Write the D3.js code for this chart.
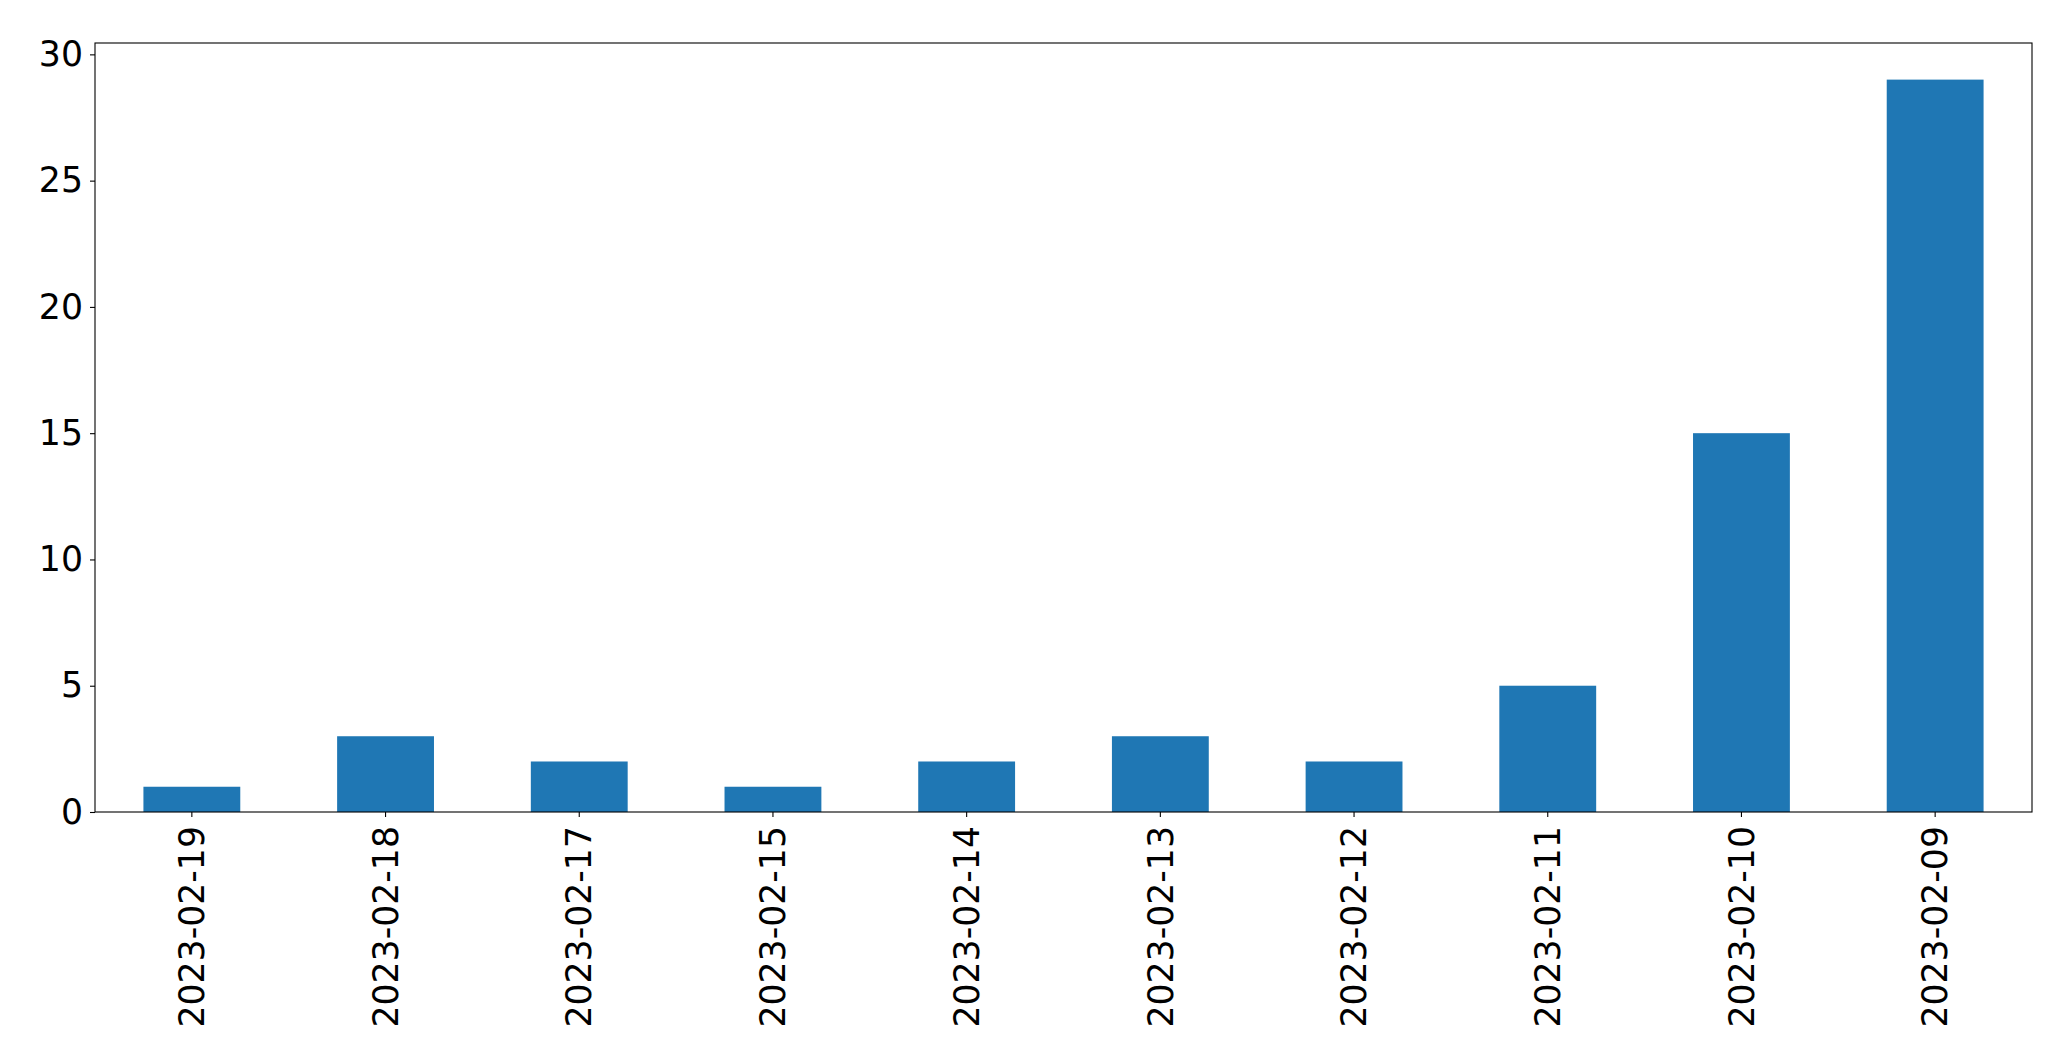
<!DOCTYPE html>
<html>
<head>
<meta charset="utf-8">
<script src="https://cdn.jsdelivr.net/npm/d3@7"></script>
<style>
    body { margin: 0; background: #fff; }
    svg { display: block; }
    .axis text { font-family: "DejaVu Sans", sans-serif; font-size: 34.7px; fill: #000; }
    .axis path, .axis line { stroke: #000; stroke-width: 1.1px; }
</style>
</head>
<body>
<div id="container"></div>
<script>
"use strict"

const dates = ["2023-02-19", "2023-02-18", "2023-02-17", "2023-02-15", "2023-02-14",
               "2023-02-13", "2023-02-12", "2023-02-11", "2023-02-10", "2023-02-09"];
const counts = [1, 3, 2, 1, 2, 3, 2, 5, 15, 29];
const yTicks = [0, 5, 10, 15, 20, 25, 30];

const W = 2071, H = 1064;
const margin = { left: 95, right: 39, top: 43, bottom: 252 };
const width = W - margin.left - margin.right;
const height = H - margin.top - margin.bottom;

const svg = d3.select("#container").append("svg")
    .attr("width", W)
    .attr("height", H);

const chart = svg.append("g")
    .attr("transform", `translate(${margin.left},${margin.top})`);

const x = d3.scaleBand()
    .domain(dates)
    .range([0, width])
    .paddingInner(0.5)
    .paddingOuter(0.25);

const y = d3.scaleLinear()
    .domain([0, d3.max(counts) * 1.05])
    .range([height, 0]);

chart.selectAll(".bar")
    .data(dates.map((d, i) => ({ date: d, value: counts[i] })))
    .enter().append("rect")
    .attr("class", "bar")
    .attr("x", (d) => x(d.date))
    .attr("width", x.bandwidth())
    .attr("y", (d) => y(d.value))
    .attr("height", (d) => height - y(d.value))
    .style("fill", "#1f77b4");

// y axis
const yAxis = chart.append("g")
    .attr("class", "axis")
    .call(d3.axisLeft(y).tickValues(yTicks).tickSize(5).tickPadding(7));
yAxis.select(".domain").remove();

// x axis
const xAxis = chart.append("g")
    .attr("class", "axis")
    .attr("transform", `translate(0,${height})`)
    .call(d3.axisBottom(x).tickSize(5).tickPadding(0));
xAxis.select(".domain").remove();
xAxis.selectAll("text")
    .attr("text-anchor", "end")
    .attr("transform", "translate(0,14) rotate(-90)")
    .attr("x", 0)
    .attr("y", 0)
    .attr("dy", "0.35em");

// frame
chart.append("rect")
    .attr("width", width)
    .attr("height", height)
    .style("fill", "none")
    .style("stroke", "#000")
    .style("stroke-width", "1.1px");
</script>
</body>
</html>
